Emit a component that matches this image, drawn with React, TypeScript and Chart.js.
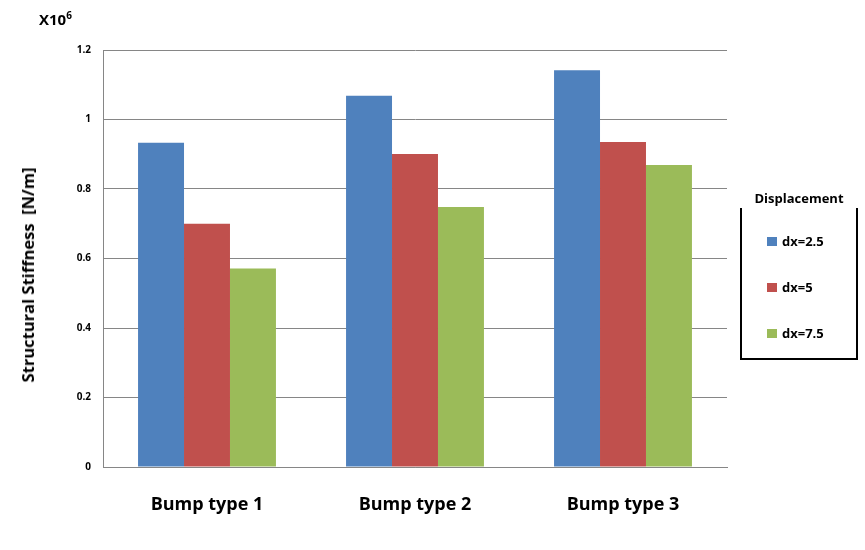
import React, { useEffect, useRef } from "react";
import { Chart, registerables } from "chart.js";

Chart.register(...registerables);

const categories = ["Bump type 1", "Bump type 2", "Bump type 3"];
const seriesNames = ["dx=2.5", "dx=5", "dx=7.5"];
const dx25 = [0.933, 1.068, 1.142];
const dx5 = [0.7, 0.901, 0.935];
const dx75 = [0.571, 0.748, 0.869];
const colors = ["#4F81BD", "#C0504D", "#9BBB59"];
const yTicks = [0, 0.2, 0.4, 0.6, 0.8, 1, 1.2];
const yTitle = "Structural Stiffness  [N/m]";

const FONT = "'Open Sans', 'Noto Sans', sans-serif";

export default function App() {
  const ref = useRef<HTMLCanvasElement | null>(null);

  useEffect(() => {
    document.body.style.margin = "0";
    const ctx = ref.current!.getContext("2d")!;
    const values = [dx25, dx5, dx75];
    const chart = new Chart(ctx, {
      type: "bar",
      data: {
        labels: categories,
        datasets: seriesNames.map((n, i) => ({
          label: n,
          data: values[i],
          backgroundColor: colors[i],
          borderWidth: 0,
          barPercentage: 1,
          categoryPercentage: 0.663,
        })),
      },
      options: {
        responsive: false,
        animation: false,
        maintainAspectRatio: false,
        layout: { padding: { top: 50, right: 138, bottom: 0, left: 0 } },
        plugins: { legend: { display: false }, tooltip: { enabled: false } },
        scales: {
          x: {
            grid: { display: false, drawTicks: false },
            border: { display: true, color: "#868686", width: 1 },
            ticks: {
              color: "#000",
              padding: 27,
              font: { family: FONT, size: 18, weight: "bold" },
            },
            afterFit: (s: any) => {
              s.height = 83;
            },
          },
          y: {
            min: 0,
            max: 1.2,
            afterBuildTicks: (s: any) => {
              s.ticks = yTicks.map((v) => ({ value: v }));
            },
            grid: { color: "#868686", lineWidth: 1, drawTicks: false },
            border: { display: true, color: "#868686", width: 1 },
            ticks: {
              color: "#000",
              padding: 12,
              font: { family: FONT, size: 10, weight: "bold" },
              callback: (v: any) => String(Math.round(Number(v) * 10) / 10),
            },
            afterFit: (s: any) => {
              s.width = 103;
            },
          },
        },
      },
    });
    return () => chart.destroy();
  }, []);

  return (
    <div style={{ position: "fixed", left: 0, top: 0, width: 865, height: 550, background: "#fff", fontFamily: FONT }}>
      <canvas ref={ref} width={865} height={550} style={{ position: "absolute", left: 0, top: 0 }} />
      <div
        style={{
          position: "absolute",
          left: 28,
          top: 275,
          transform: "translate(-50%, -50%) rotate(-90deg)",
          whiteSpace: "pre",
          fontWeight: "bold",
          fontSize: 16.5,
          lineHeight: "20px",
          color: "#000",
        }}
      >
        {yTitle}
      </div>
      <div style={{ position: "absolute", left: 39, top: 9, fontWeight: "bold", fontSize: 15, color: "#000", lineHeight: "20px" }}>
        X10<sup style={{ fontSize: 10, verticalAlign: "6px", lineHeight: 0 }}>6</sup>
      </div>
      <div style={{ position: "absolute", left: 740, top: 188, width: 118, textAlign: "center", fontWeight: "bold", fontSize: 13, color: "#000", lineHeight: "20px" }}>
        Displacement
      </div>
      <div style={{ position: "absolute", left: 740, top: 208, width: 114, height: 150, borderLeft: "2px solid #000", borderRight: "2px solid #000", borderBottom: "2px solid #000" }} />
      {seriesNames.map((n, i) => (
        <div key={n} style={{ position: "absolute", left: 767, top: 231 + i * 46, height: 20, display: "flex", alignItems: "center", fontWeight: "bold", fontSize: 13, color: "#000" }}>
          <span style={{ display: "inline-block", width: 10, height: 9, background: colors[i], marginRight: 5 }} />
          {n}
        </div>
      ))}
    </div>
  );
}
